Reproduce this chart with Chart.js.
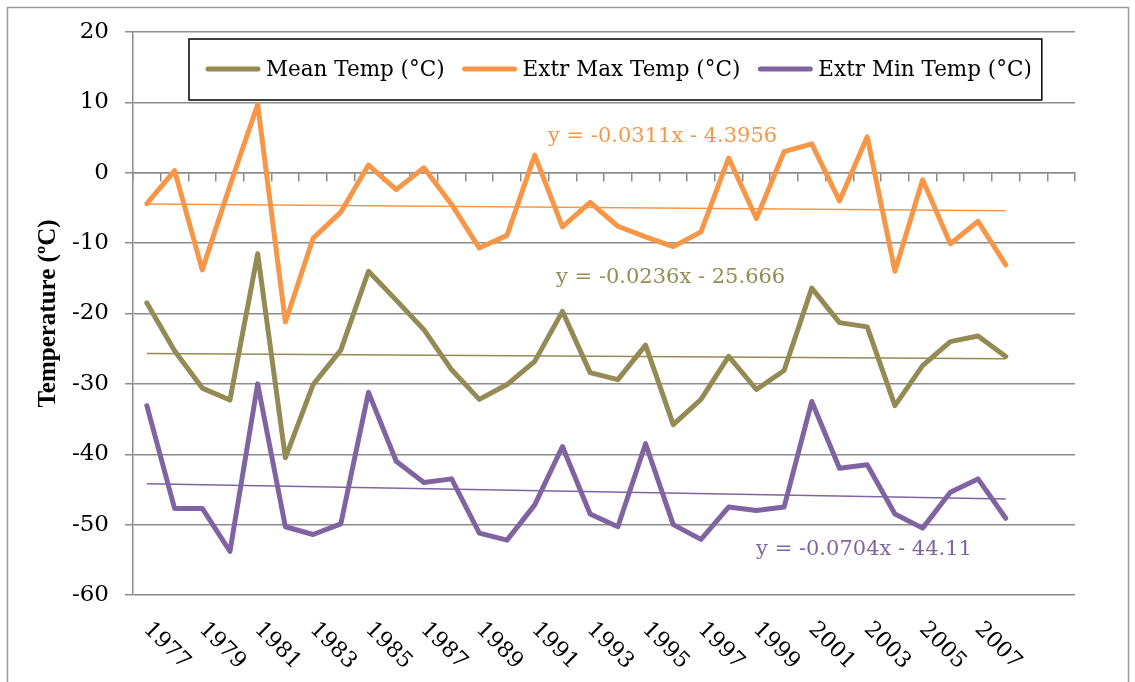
<!DOCTYPE html>
<html>
<head>
<meta charset="utf-8">
<script src="https://cdn.jsdelivr.net/npm/chart.js@4.4.1/dist/chart.umd.min.js"></script>
<style>
  html, body { margin: 0; padding: 0; background: #fff; }
</style>
</head>
<body>
<canvas id="chart" width="1135" height="682"></canvas>
<script>
'use strict'

const years = [
  '1977', '1978', '1979', '1980', '1981', '1982', '1983', '1984',
  '1985', '1986', '1987', '1988', '1989', '1990', '1991', '1992',
  '1993', '1994', '1995', '1996', '1997', '1998', '1999', '2000',
  '2001', '2002', '2003', '2004', '2005', '2006', '2007', '2008'
]
// two empty category slots follow the data on the axis
const emptySlots = ['', '']

const meanTemp = [
  -18.5, -25.3, -30.6, -32.3, -11.5, -40.5, -30.1, -25.2,
  -14.0, -18.1, -22.3, -28.0, -32.2, -30.1, -26.8, -19.7,
  -28.4, -29.4, -24.5, -35.8, -32.2, -26.1, -30.8, -28.1,
  -16.4, -21.3, -21.9, -33.1, -27.4, -24.0, -23.2, -26.1
]
const maxTemp = [
  -4.4, 0.3, -13.8, -1.8, 9.7, -21.2, -9.3, -5.6,
  1.1, -2.4, 0.7, -4.5, -10.7, -8.9, 2.5, -7.7,
  -4.2, -7.6, -9.1, -10.5, -8.4, 2.1, -6.5, 3.0,
  4.1, -4.0, 5.1, -14.0, -1.0, -10.1, -6.9, -13.1
]
const minTemp = [
  -33.1, -47.7, -47.7, -53.8, -30.0, -50.3, -51.4, -49.9,
  -31.2, -41.0, -44.0, -43.5, -51.2, -52.2, -47.2, -38.9,
  -48.5, -50.3, -38.5, -50.0, -52.1, -47.5, -48.0, -47.5,
  -32.5, -42.0, -41.5, -48.5, -50.5, -45.4, -43.5, -49.1
]

// linear trend equations shown on the chart: [slope, intercept], x = 1..n
const meanTrend = [-0.0236, -25.666]
const maxTrend = [-0.0311, -4.3956]
const minTrend = [-0.0704, -44.11]

const yTicks = [-60, -50, -40, -30, -20, -10, 0, 10, 20]

const seriesNames = ['Mean Temp (°C)', 'Extr Max Temp (°C)', 'Extr Min Temp (°C)']
const equationTexts = ['y = -0.0236x - 25.666', 'y = -0.0311x - 4.3956', 'y = -0.0704x - 44.11']

const COLORS = ['#948A54', '#F79646', '#8064A2']
const GRID = '#8c8c8c'
const SERIF = '"DejaVu Serif", serif'

const categories = years.concat(emptySlots)

function trendPoints (eq) {
  const last = years.length - 1
  return years.map((y, i) => (i === 0 || i === last) ? eq[0] * (i + 1) + eq[1] : null)
}

function seriesDataset (label, data, color) {
  return {
    label: label,
    data: data,
    borderColor: color,
    backgroundColor: color,
    borderWidth: 5,
    borderCapStyle: 'round',
    borderJoinStyle: 'round',
    pointRadius: 0,
    tension: 0,
    fill: false
  }
}

function trendDataset (eq, color) {
  return {
    label: 'trend',
    data: trendPoints(eq),
    borderColor: color,
    borderWidth: 1.5,
    pointRadius: 0,
    spanGaps: true,
    fill: false
  }
}

// equation label anchors: [category index, y value] of text left / baseline
const equationAnchors = [[14.77, -15.6], [14.48, 4.4], [21.99, -54.3]]

const frame = {
  id: 'frame',
  beforeDraw (chart) {
    const ctx = chart.ctx
    ctx.save()
    ctx.fillStyle = '#fff'
    ctx.fillRect(0, 0, chart.width, chart.height)
    ctx.strokeStyle = '#9a9a9a'
    ctx.lineWidth = 1.5
    ctx.strokeRect(7.5, 7.5, chart.width - 14, chart.height + 20)
    ctx.restore()
  }
}

const yearLabels = {
  id: 'yearLabels',
  afterDraw (chart) {
    const ctx = chart.ctx
    const xScale = chart.scales.x
    ctx.save()
    ctx.font = '22px ' + SERIF
    ctx.fillStyle = '#000'
    ctx.textAlign = 'left'
    ctx.textBaseline = 'middle'
    categories.forEach((label, i) => {
      if (i % 2 !== 0 || !label) return
      ctx.save()
      ctx.translate(xScale.getPixelForValue(i), chart.chartArea.bottom + 31)
      ctx.rotate(Math.PI / 4)
      ctx.fillText(label, 0, 0)
      ctx.restore()
    })
    ctx.restore()
  }
}

const equations = {
  id: 'equations',
  afterDatasetsDraw (chart) {
    const ctx = chart.ctx
    const xScale = chart.scales.x
    const yScale = chart.scales.y
    ctx.save()
    ctx.font = '21px ' + SERIF
    ctx.textAlign = 'left'
    ctx.textBaseline = 'alphabetic'
    equationTexts.forEach((text, i) => {
      ctx.fillStyle = COLORS[i]
      const a = equationAnchors[i]
      ctx.fillText(text, xScale.getPixelForValue(a[0]), yScale.getPixelForValue(a[1]))
    })
    ctx.restore()
  }
}

// boxed legend sitting inside the top of the plot
const boxedLegend = {
  id: 'boxedLegend',
  afterDatasetsDraw (chart) {
    const ctx = chart.ctx
    const sample = 54
    const gap = 6
    const itemGap = 18
    const startX = 206
    const midY = 69
    ctx.save()
    ctx.font = '21.5px ' + SERIF
    let x = startX
    const items = seriesNames.map((name, i) => {
      const item = { name: name, color: COLORS[i], x: x }
      x += sample + gap + ctx.measureText(name).width + itemGap
      return item
    })
    const right = x - itemGap + 10
    ctx.fillStyle = '#fff'
    ctx.fillRect(189, 39, right - 189, 61)
    ctx.strokeStyle = '#000'
    ctx.lineWidth = 1.5
    ctx.strokeRect(189, 39, right - 189, 61)
    items.forEach(item => {
      ctx.strokeStyle = item.color
      ctx.lineWidth = 5
      ctx.lineCap = 'round'
      ctx.beginPath()
      ctx.moveTo(item.x + 2, midY)
      ctx.lineTo(item.x + sample - 2, midY)
      ctx.stroke()
      ctx.fillStyle = '#000'
      ctx.textAlign = 'left'
      ctx.textBaseline = 'middle'
      ctx.fillText(item.name, item.x + sample + gap, midY + 1)
    })
    ctx.restore()
  }
}

function renderChart () {
  const context = document.getElementById('chart').getContext('2d')
  return new Chart(context, {
    type: 'line',
    data: {
      labels: categories,
      datasets: [
        seriesDataset(seriesNames[0], meanTemp, COLORS[0]),
        seriesDataset(seriesNames[1], maxTemp, COLORS[1]),
        seriesDataset(seriesNames[2], minTemp, COLORS[2]),
        trendDataset(meanTrend, COLORS[0]),
        trendDataset(maxTrend, COLORS[1]),
        trendDataset(minTrend, COLORS[2])
      ]
    },
    options: {
      responsive: false,
      animation: false,
      devicePixelRatio: 1,
      layout: { padding: { left: 0, top: 32, right: 60, bottom: 87 } },
      plugins: {
        legend: { display: false },
        tooltip: { enabled: false }
      },
      scales: {
        x: {
          type: 'category',
          position: { y: 0 },
          offset: true,
          afterFit: scale => { scale.height = 0 },
          grid: {
            offset: true,
            drawOnChartArea: false,
            drawTicks: true,
            tickLength: 8,
            color: GRID,
            lineWidth: 1.5
          },
          border: { display: true, color: GRID, width: 1.5 },
          ticks: { display: false }
        },
        y: {
          min: yTicks[0],
          max: yTicks[yTicks.length - 1],
          afterFit: scale => { scale.width = 133 },
          afterBuildTicks: scale => { scale.ticks = yTicks.map(v => ({ value: v })) },
          grid: { color: GRID, lineWidth: 1.5, tickLength: 8 },
          border: { display: true, color: GRID, width: 1.5 },
          ticks: {
            padding: 16,
            color: '#000',
            font: { family: SERIF, size: 23 }
          },
          title: {
            display: true,
            text: 'Temperature (ºC)',
            color: '#000',
            padding: { top: 34, bottom: 0 },
            font: { family: '"Liberation Serif", "Times New Roman", serif', size: 25, weight: 'bold' }
          }
        }
      }
    },
    plugins: [frame, equations, boxedLegend, yearLabels]
  })
}

renderChart()
</script>
</body>
</html>
